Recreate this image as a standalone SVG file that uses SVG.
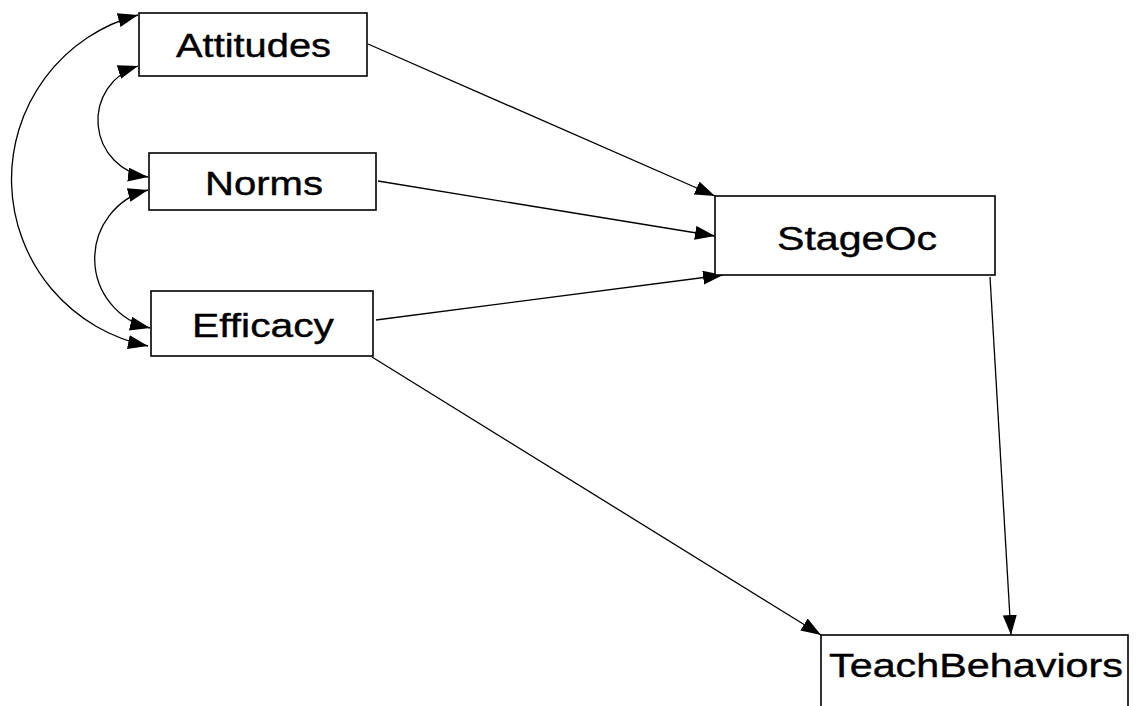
<svg xmlns="http://www.w3.org/2000/svg" width="1139" height="706" viewBox="0 0 1139 706">
  <style>
    .box { fill: #ffffff; stroke: #000000; stroke-width: 1.6; }
    .label { font-family: "Liberation Sans", Arial, sans-serif; font-size: 33px; fill: #000000; stroke: #000000; stroke-width: 0.4; }
    .edge { fill: none; stroke: #000000; stroke-width: 1.3; }
  </style>
  <defs>
    <marker id="arrow" markerUnits="userSpaceOnUse" markerWidth="22" markerHeight="15" refX="20" refY="7" orient="auto-start-reverse">
      <path d="M0,0 L20,7 L0,14 Z" fill="#000000"/>
    </marker>
  </defs>
  <rect width="1139" height="706" fill="#ffffff"/>

  <!-- connectors -->
  <g id="connectors">
    <!-- covariances between the exogenous variables -->
    <path class="edge" d="M138,15 A170,170 0 0 0 148,346" marker-start="url(#arrow)" marker-end="url(#arrow)"/>
    <path class="edge" d="M138,66 A57,57 0 0 0 148,177" marker-start="url(#arrow)" marker-end="url(#arrow)"/>
    <path class="edge" d="M148,190 A71,71 0 0 0 150,328" marker-start="url(#arrow)" marker-end="url(#arrow)"/>
    <!-- directed paths -->
    <line class="edge" x1="368" y1="44" x2="715" y2="196" marker-end="url(#arrow)"/>
    <line class="edge" x1="378" y1="181" x2="715" y2="236" marker-end="url(#arrow)"/>
    <line class="edge" x1="376" y1="320" x2="723" y2="275" marker-end="url(#arrow)"/>
    <line class="edge" x1="372" y1="357" x2="821" y2="635" marker-end="url(#arrow)"/>
    <line class="edge" x1="990" y1="277" x2="1011" y2="635" marker-end="url(#arrow)"/>
  </g>

  <g id="attitudes">
    <rect class="box" x="139" y="13" width="228" height="63"/>
    <text class="label" x="176" y="57" textLength="155" lengthAdjust="spacingAndGlyphs">Attitudes</text>
  </g>
  <g id="norms">
    <rect class="box" x="149" y="153" width="227" height="57"/>
    <text class="label" x="205" y="195" textLength="118" lengthAdjust="spacingAndGlyphs">Norms</text>
  </g>
  <g id="efficacy">
    <rect class="box" x="151" y="291" width="222" height="65"/>
    <text class="label" x="192" y="337" textLength="142" lengthAdjust="spacingAndGlyphs">Efficacy</text>
  </g>
  <g id="stageoc">
    <rect class="box" x="715" y="196" width="280" height="79"/>
    <text class="label" x="777" y="250" textLength="160" lengthAdjust="spacingAndGlyphs">StageOc</text>
  </g>
  <g id="teachbehaviors">
    <rect class="box" x="821" y="635" width="307" height="90"/>
    <text class="label" x="829" y="677" textLength="294" lengthAdjust="spacingAndGlyphs">TeachBehaviors</text>
  </g>
</svg>
